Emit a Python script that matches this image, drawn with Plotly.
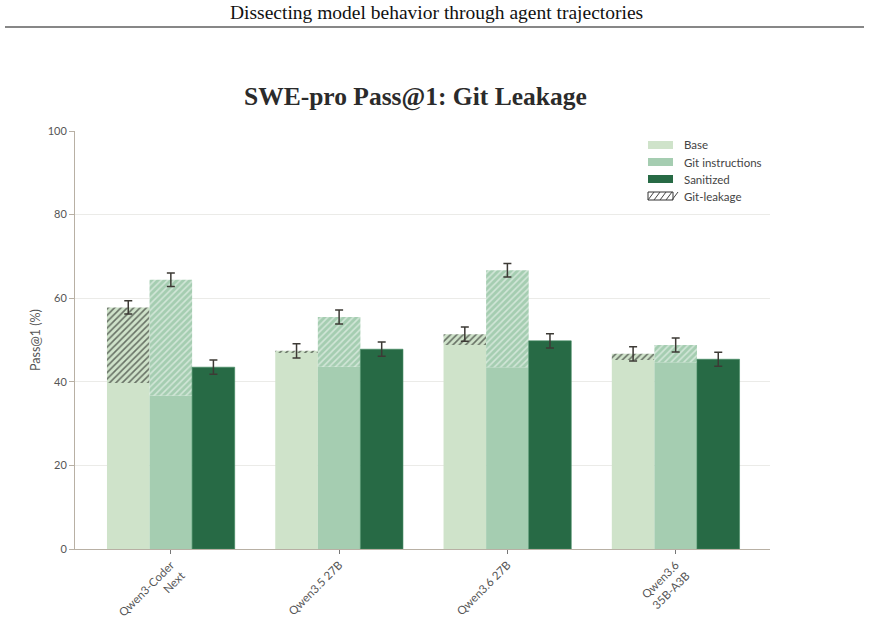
import plotly.graph_objects as go

# ---- data ----
models = ["Qwen3-Coder<br>Next", "Qwen3.5 27B", "Qwen3.6 27B", "Qwen3.6<br>35B-A3B"]
base_clean = [39.7, 47.0, 48.8, 45.2]
base_total = [57.8, 47.4, 51.4, 46.7]
base_err = [1.6, 1.7, 1.7, 1.7]
git_clean = [36.7, 43.6, 43.5, 44.7]
git_total = [64.4, 55.5, 66.7, 48.8]
git_err = [1.6, 1.65, 1.6, 1.7]
sanitized = [43.5, 47.8, 49.8, 45.4]
san_err = [1.7, 1.7, 1.7, 1.65]
legend_names = ["Base", "Git instructions", "Sanitized", "Git-leakage"]

C_BASE = "#cfe3ca"
C_GIT = "#a5cdb1"
C_SAN = "#276a45"
ERR_C = "#3d3a35"

W = 869
H = 623
ML, MR, MT, MB = 75, 99, 131, 74
PW = W - ML - MR
PH = H - MT - MB

def px(x):
    return (x - ML) / PW

def py(y):
    return (H - MB - y) / PH

xs = list(range(len(models)))
bw = 0.253
offs = [-0.38, -0.127, 0.126]

base_leak = [t - c for t, c in zip(base_total, base_clean)]
git_leak = [t - c for t, c in zip(git_total, git_clean)]

def err(arr):
    return dict(type="data", array=arr, visible=True, color=ERR_C, thickness=1.5, width=4)

fig = go.Figure()
fig.add_trace(go.Bar(x=xs, y=base_clean, width=bw, offset=offs[0], marker=dict(color=C_BASE, line=dict(width=0)),
                     showlegend=False, hoverinfo="skip"))
fig.add_trace(go.Bar(x=xs, y=base_leak, base=base_clean, width=bw, offset=offs[0],
                     marker=dict(color=C_BASE, line=dict(width=0),
                                 pattern=dict(shape="/", fgcolor="#000000", bgcolor=C_BASE, size=4.5, solidity=0.35)),
                     error_y=err(base_err), showlegend=False))
fig.add_trace(go.Bar(x=xs, y=git_clean, width=bw, offset=offs[1], marker=dict(color=C_GIT, line=dict(width=0)),
                     showlegend=False))
fig.add_trace(go.Bar(x=xs, y=git_leak, base=git_clean, width=bw, offset=offs[1],
                     marker=dict(color=C_GIT, line=dict(width=0),
                                 pattern=dict(shape="/", fgcolor="#ffffff", bgcolor=C_GIT, size=4.5, solidity=0.35)),
                     error_y=err(git_err), showlegend=False))
fig.add_trace(go.Bar(x=xs, y=sanitized, width=bw, offset=offs[2], marker=dict(color=C_SAN, line=dict(width=0.6, color="#3f8a5f")),
                     error_y=err(san_err), showlegend=False))

shapes = []
annotations = []

# page header
annotations.append(dict(text="Dissecting model behavior through agent trajectories", xref="paper", yref="paper",
                        x=px(436), y=py(13), showarrow=False, xanchor="center", yanchor="middle",
                        font=dict(family="Liberation Serif", size=19.5, color="#111")))
shapes.append(dict(type="line", xref="paper", yref="paper", x0=px(5), x1=px(864), y0=py(27), y1=py(27),
                   line=dict(color="#111", width=1.2)))
# title
annotations.append(dict(text="<b>SWE-pro Pass@1: Git Leakage</b>", xref="paper", yref="paper",
                        x=px(415), y=py(97), showarrow=False, xanchor="center", yanchor="middle",
                        font=dict(family="Liberation Serif", size=25.5, color="#2b2b2b")))

# manual legend
leg_y = [145, 162, 179, 196]
leg_cols = [C_BASE, C_GIT, C_SAN, "#ffffff"]
for name, yc, col in zip(legend_names, leg_y, leg_cols):
    line = dict(width=0) if col != "#ffffff" else dict(color="#333", width=1)
    shapes.append(dict(type="rect", xref="paper", yref="paper", x0=px(648), x1=px(673),
                       y0=py(yc + 4), y1=py(yc - 4), fillcolor=col, line=line))
    annotations.append(dict(text=name, xref="paper", yref="paper", x=px(682), y=py(yc), showarrow=False,
                            xanchor="left", yanchor="middle", font=dict(family="Lato", size=11.5, color="#444")))
for k in range(5):
    x0 = 648 + k * 6
    shapes.append(dict(type="line", xref="paper", yref="paper", x0=px(x0), y0=py(196 + 4), x1=px(x0 + 6), y1=py(196 - 4),
                       line=dict(color="#444", width=1)))

fig.update_layout(
    width=W, height=H,
    margin=dict(l=ML, r=MR, t=MT, b=MB),
    barmode="overlay",
    plot_bgcolor="white", paper_bgcolor="white",
    shapes=shapes, annotations=annotations,
    showlegend=False,
    font=dict(family="Lato", color="#555"),
    xaxis=dict(range=[-0.57, 3.56], tickvals=xs, ticktext=models, tickangle=-45, automargin=False,
               showgrid=False, zeroline=False, showline=True, linecolor="#b8b0a4", linewidth=1,
               ticks="outside", ticklen=4, tickcolor="#777", tickfont=dict(size=11.5, color="#555")),
    yaxis=dict(range=[0, 100], tickvals=[0, 20, 40, 60, 80, 100], showgrid=True, gridcolor="#ebebe8",
               zeroline=False, showline=True, linecolor="#b8b0a4", linewidth=1, automargin=False,
               ticks="outside", ticklen=5, tickcolor="#b8b0a4", tickfont=dict(size=11, color="#555"),
               title=dict(text="Pass@1 (%)", font=dict(size=12.5, color="#555"), standoff=4)),
)

fig.write_html("out.html")
